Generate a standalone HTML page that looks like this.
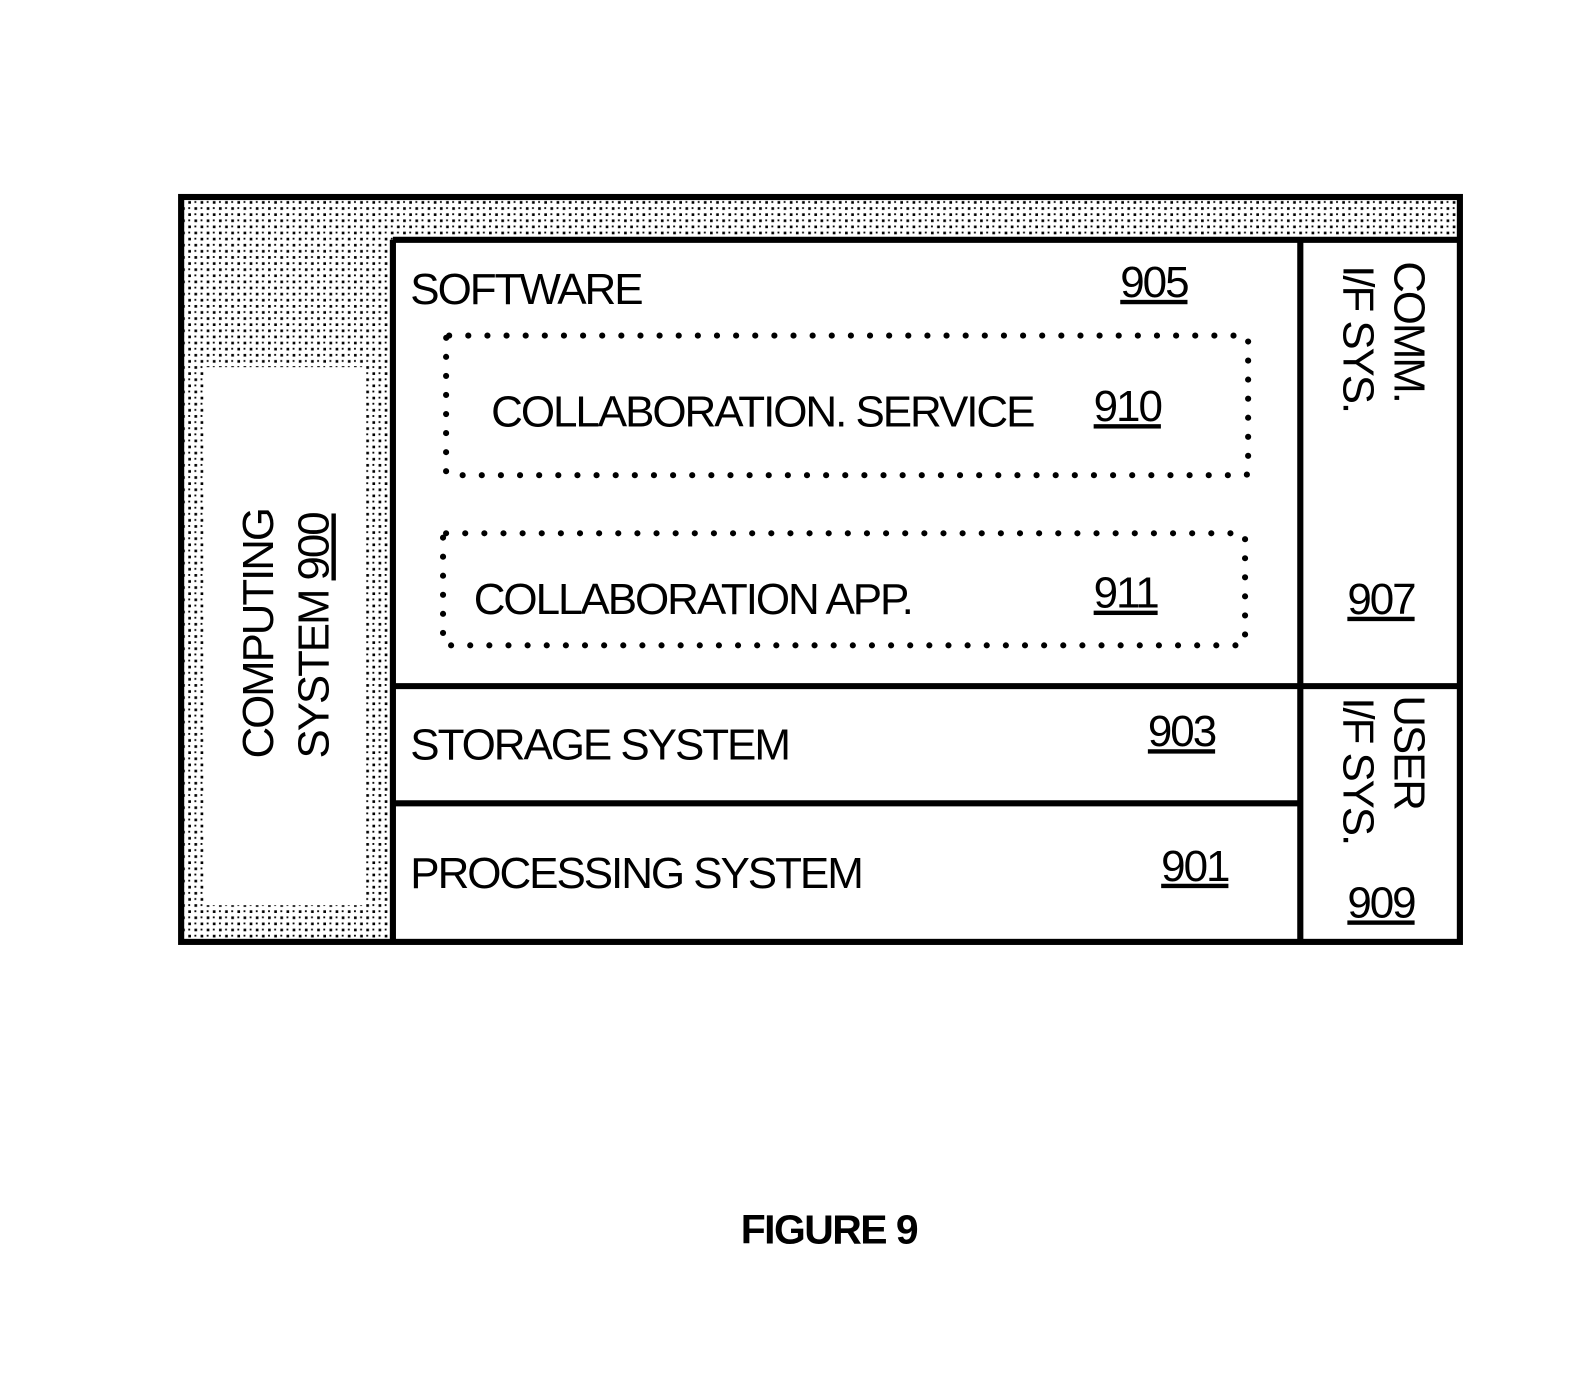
<!DOCTYPE html>
<html><head><style>html,body{margin:0;padding:0;background:#fff}</style></head>
<body>
<svg width="1595" height="1376" viewBox="0 0 1595 1376" xmlns="http://www.w3.org/2000/svg" font-family="Liberation Sans, Arial, sans-serif">
<defs>
<pattern id="st" width="12" height="12" patternUnits="userSpaceOnUse">
<rect x="1" y="1" width="2.6" height="2.6" fill="#000"/>
<rect x="7" y="7" width="2.6" height="2.6" fill="#000"/>
<rect x="7" y="1" width="1.8" height="1.8" fill="#000"/>
<rect x="1" y="7" width="1.8" height="1.8" fill="#000"/>
</pattern>
</defs>
<g transform="translate(-3,-1.7) scale(1.023,1.019)">
<rect x="180" y="195" width="1250" height="730" fill="url(#st)"/>
<rect x="203" y="362" width="157" height="528" fill="#fff"/>
<rect x="387" y="240" width="1043" height="685" fill="#fff"/>
<rect x="180" y="195" width="1250" height="731" fill="none" stroke="#000" stroke-width="6"/>
<g stroke="#000" stroke-width="6" fill="none">
<line x1="387" y1="237" x2="1432" y2="237"/>
<line x1="387" y1="237" x2="387" y2="928"/>
<line x1="1274" y1="237" x2="1274" y2="928"/>
<line x1="387" y1="675" x2="1432" y2="675"/>
<line x1="387" y1="790" x2="1274" y2="790"/>
</g>
<g stroke="#000" stroke-width="6" stroke-linecap="round" stroke-dasharray="0 18.7" fill="none">
<rect x="439" y="331" width="784" height="137" rx="3"/>
<rect x="436" y="525" width="784" height="110" rx="3"/>
</g>
<g font-size="43" fill="#000" letter-spacing="-2">
<text x="404" y="300">SOFTWARE</text>
<text x="1098" y="293" text-decoration="underline">905</text>
<text x="483" y="420">COLLABORATION. SERVICE</text>
<text x="1072" y="415" text-decoration="underline">910</text>
<text x="466" y="604">COLLABORATION APP.</text>
<text x="1072" y="598" text-decoration="underline">911</text>
<text x="404" y="747">STORAGE SYSTEM</text>
<text x="1125" y="734" text-decoration="underline">903</text>
<text x="404" y="873">PROCESSING SYSTEM</text>
<text x="1138" y="866" text-decoration="underline">901</text>
<text x="1320" y="604" text-decoration="underline">907</text>
<text x="1320" y="902" text-decoration="underline">909</text>
<text transform="translate(270,746) rotate(-90)">COMPUTING</text>
<text transform="translate(324,746) rotate(-90)">SYSTEM <tspan text-decoration="underline">900</tspan></text>
<text transform="translate(1366,258) rotate(90)">COMM.</text>
<text transform="translate(1316,262) rotate(90)">I/F SYS.</text>
<text transform="translate(1366,684) rotate(90)">USER</text>
<text transform="translate(1316,686) rotate(90)">I/F SYS.</text>
</g>
<text x="727" y="1222" font-size="40" font-weight="bold" letter-spacing="-1.5">FIGURE 9</text>
</g>
</svg>
</body></html>
